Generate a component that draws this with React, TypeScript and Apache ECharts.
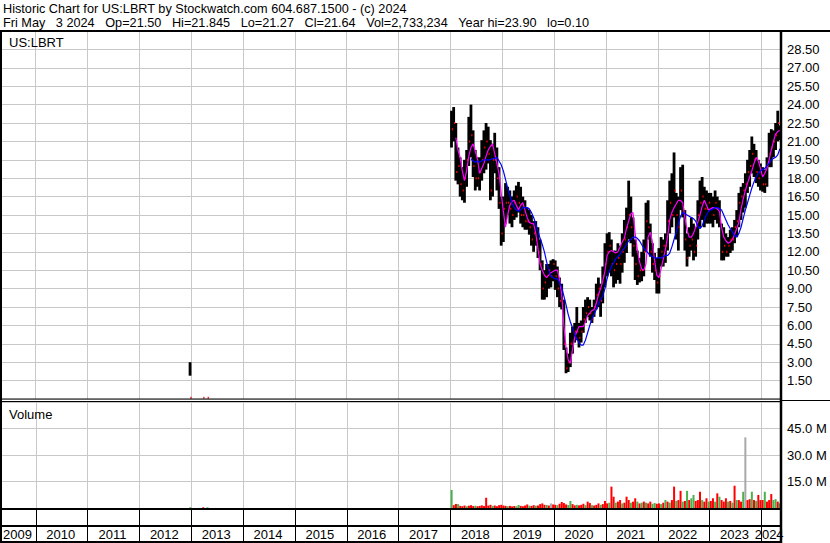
import React, { useEffect, useRef } from "react";
import * as echarts from "echarts";

// ---- DATA (semi-monthly periods, "a" = 1st-15th, "b" = 16th-end) ----
const firstPeriod = "2018-01a";

const high = [
  23.5, 23.8, 22.5, 20.5, 19.7, 18.9, 19.5, 20.3, 23.0, 24.0, 21.9, 20.3, 19.7, 19.7, 21.1, 21.9, 22.5, 22.2, 21.1, 20.8, 21.7, 20.5, 18.9, 16.5,
  16.5, 17.6, 17.3, 17.0, 16.5, 17.0, 17.4, 17.7, 17.3, 16.5, 16.2, 15.6, 15.4, 15.0, 14.5, 14.5, 14.0, 13.0, 11.3, 10.5, 11.0, 11.0, 11.3, 11.4,
  11.3, 10.8, 9.9, 9.4, 8.1, 4.2, 3.7, 5.4, 5.9, 6.2, 7.5, 6.2, 6.4, 7.5, 8.1, 8.3, 8.1, 7.5, 8.1, 9.4, 9.9, 9.4, 10.8, 12.7,
  13.5, 13.6, 13.0, 12.1, 12.1, 12.7, 12.5, 13.5, 14.6, 15.6, 17.8, 16.5, 14.8, 13.0, 12.1, 11.5, 12.0, 13.0, 16.0, 16.2, 14.3, 12.7, 11.9, 11.5,
  12.3, 13.2, 13.0, 13.5, 16.2, 17.8, 18.4, 20.1, 16.8, 16.5, 18.9, 19.1, 15.4, 13.5, 14.0, 14.8, 14.3, 14.0, 16.2, 17.8, 18.1, 17.3, 17.0, 16.8,
  16.8, 16.5, 17.0, 16.5, 16.2, 14.3, 14.0, 13.5, 13.2, 13.8, 14.0, 14.6, 15.4, 16.8, 17.3, 17.6, 18.4, 19.5, 20.3, 21.4, 20.8, 20.3, 19.5, 19.2,
  18.9, 18.7, 19.7, 21.7, 22.0, 21.9, 22.5, 23.5, 22.3,
];
const low = [
  20.5, 21.0, 17.8, 17.5, 16.5, 16.2, 16.0, 17.3, 19.0, 19.7, 18.1, 17.0, 17.3, 17.0, 17.8, 18.4, 18.7, 19.2, 16.2, 16.5, 18.4, 17.0, 15.5, 12.5,
  12.8, 14.3, 15.0, 14.3, 14.0, 14.6, 14.8, 15.2, 14.3, 14.0, 13.8, 13.8, 13.4, 12.5, 12.0, 12.5, 11.5, 10.5, 8.1, 8.1, 8.3, 9.0, 9.1, 9.6,
  8.9, 8.3, 7.5, 7.3, 4.0, 2.1, 2.2, 2.6, 3.7, 4.6, 4.8, 4.2, 4.6, 5.4, 6.2, 6.7, 6.4, 6.2, 6.7, 7.3, 7.5, 6.7, 7.8, 9.1,
  10.0, 10.3, 10.0, 9.1, 9.4, 9.7, 9.4, 10.3, 11.1, 11.9, 13.0, 12.7, 11.6, 9.7, 9.3, 9.5, 9.6, 10.0, 12.0, 13.0, 11.6, 10.3, 9.7, 8.6,
  8.6, 10.8, 10.8, 11.1, 12.1, 13.5, 14.0, 14.8, 13.0, 12.1, 15.4, 14.8, 12.1, 10.8, 11.6, 12.1, 11.3, 11.6, 13.0, 14.0, 14.6, 14.0, 14.3, 14.3,
  14.3, 14.0, 14.6, 14.3, 14.0, 11.3, 11.3, 11.6, 11.6, 11.9, 12.1, 12.7, 13.2, 14.0, 14.6, 15.2, 15.6, 16.8, 17.3, 18.4, 18.1, 17.6, 17.3, 17.0,
  16.9, 16.8, 17.3, 18.9, 18.9, 19.7, 20.3, 21.0, 21.1,
];
const close = [
  22.0, 22.5, 18.5, 19.0, 17.5, 17.0, 18.0, 19.5, 21.0, 21.5, 19.0, 18.0, 18.0, 18.5, 19.5, 20.5, 21.0, 20.0, 17.0, 19.5, 19.5, 18.0, 16.0, 13.5,
  15.5, 16.0, 16.0, 15.5, 15.0, 16.0, 16.5, 16.0, 15.0, 15.0, 14.5, 14.5, 14.0, 13.0, 13.5, 13.0, 12.0, 11.0, 9.0, 9.5, 10.0, 10.5, 10.0, 11.0,
  10.0, 9.0, 8.0, 7.8, 4.5, 2.5, 3.0, 4.5, 4.5, 5.5, 5.5, 5.0, 5.5, 6.5, 7.0, 7.5, 7.0, 6.5, 7.5, 8.5, 9.0, 8.0, 10.0, 11.0,
  12.0, 12.5, 11.0, 10.5, 11.0, 11.5, 11.0, 12.0, 13.0, 14.0, 15.0, 14.0, 12.5, 11.0, 10.0, 10.5, 10.5, 12.0, 14.5, 14.0, 12.0, 11.0, 10.5, 9.5,
  10.0, 12.0, 12.5, 12.5, 14.5, 16.0, 15.0, 17.0, 15.0, 14.0, 17.0, 15.5, 13.0, 11.5, 12.5, 13.0, 12.0, 12.5, 15.0, 16.0, 16.5, 15.5, 15.5, 16.0,
  15.5, 15.0, 16.0, 15.5, 14.5, 12.0, 12.5, 12.0, 12.5, 13.0, 13.0, 14.0, 14.5, 16.0, 16.5, 17.0, 17.5, 18.5, 19.0, 20.0, 19.5, 18.5, 18.0, 18.5,
  17.5, 17.5, 19.0, 20.0, 20.5, 21.0, 21.5, 22.5, 21.6,
];
const maShort = [
  null, null, 21.3, 20.3, 19.7, 18.6, 17.8, 18.6, 19.8, 20.5, 20.8, 20.2, 19.6, 18.4, 18.8, 19.2, 19.8, 20.3, 20.6, 20.8, 20.0, 19.2, 18.4, 16.8,
  15.3, 14.0, 15.0, 15.8, 16.1, 16.2, 15.8, 15.4, 15.8, 16.0, 15.4, 14.8, 14.4, 14.3, 14.3, 13.5, 12.3, 11.0, 10.5, 10.1, 9.9, 10.1, 10.3, 10.4,
  10.5, 10.5, 9.8, 8.5, 6.0, 4.2, 3.2, 2.9, 4.0, 5.0, 5.5, 5.9, 5.9, 5.9, 6.3, 6.8, 7.0, 7.2, 7.3, 7.8, 8.5, 9.0, 9.6, 10.4,
  11.7, 12.0, 12.1, 12.0, 11.9, 12.0, 12.4, 12.8, 13.1, 13.9, 14.5, 15.1, 15.2, 13.5, 12.2, 11.2, 10.6, 10.5, 11.0, 13.2, 13.6, 12.8, 11.3, 10.1,
  9.9, 10.6, 11.4, 12.2, 13.2, 14.6, 15.2, 15.6, 15.9, 16.2, 16.2, 16.0, 14.8, 13.8, 13.2, 13.2, 13.5, 14.0, 14.4, 15.0, 15.7, 16.2, 15.8, 15.4,
  15.5, 15.6, 15.6, 15.5, 15.3, 14.0, 13.2, 12.9, 12.7, 12.8, 13.0, 13.4, 13.9, 14.4, 15.5, 16.3, 17.0, 17.6, 18.1, 18.6, 19.2, 19.7, 19.4, 18.8,
  18.1, 18.4, 18.8, 19.5, 20.3, 21.0, 21.6, 21.8, 21.9,
];
const maLong = [
  null, null, null, null, null, null, null, null, null, 19.6, 19.4, 19.3, 19.4, 19.3, 19.4, 19.5, 19.5, 19.5, 19.5, 19.6, 19.6, 19.7, 19.4, 19.1,
  18.6, 17.9, 17.2, 16.6, 16.0, 15.6, 15.4, 15.3, 15.4, 15.6, 15.6, 15.6, 15.5, 15.2, 14.8, 14.3, 13.7, 13.1, 12.6, 12.0, 11.2, 10.5, 10.0, 9.9,
  9.8, 9.8, 9.5, 9.1, 8.4, 7.7, 6.9, 6.3, 5.8, 5.3, 4.9, 4.6, 4.4, 4.4, 4.8, 5.4, 6.0, 6.5, 6.9, 7.3, 7.7, 8.1, 8.4, 9.0,
  9.8, 10.4, 10.8, 11.1, 11.4, 11.6, 11.8, 12.1, 12.3, 12.6, 12.9, 13.0, 13.2, 13.2, 13.1, 12.9, 12.6, 12.3, 12.1, 11.9, 11.7, 11.6, 11.5, 11.5,
  11.5, 11.5, 11.6, 11.7, 11.7, 11.9, 12.4, 13.0, 13.6, 14.3, 14.9, 15.2, 15.1, 15.0, 14.9, 14.8, 14.7, 14.5, 14.1, 13.9, 14.1, 14.6, 15.0, 15.3,
  15.4, 15.5, 15.6, 15.6, 15.5, 15.4, 15.0, 14.6, 14.2, 13.9, 13.6, 13.3, 13.2, 13.5, 14.0, 14.7, 15.4, 16.0, 16.6, 17.2, 17.7, 18.1, 18.4, 18.6,
  18.7, 18.8, 19.0, 19.2, 19.5, 19.6, 19.7, 19.9, 20.4,
];
// volume in millions of shares
const volume = [
  10.2, 1.6, 2.3, 2.2, 1.2, 1.0, 1.4, 1.0, 1.3, 1.6, 1.1, 1.3, 1.0, 1.2, 1.5, 1.1, 5.8, 1.4, 1.8, 1.2, 1.4, 1.0, 1.6, 1.8,
  1.4, 1.2, 1.0, 1.2, 0.9, 1.1, 1.0, 1.7, 1.2, 1.0, 1.4, 2.0, 1.3, 1.2, 1.6, 1.3, 1.4, 2.2, 2.6, 1.8, 1.7, 1.4, 2.6, 2.0,
  1.8, 1.6, 2.4, 3.4, 2.8, 2.0, 1.7, 4.0, 2.2, 1.5, 1.8, 1.5, 1.8, 2.4, 1.6, 3.6, 2.8, 1.6, 1.4, 1.8, 2.6, 1.8, 2.2, 4.0,
  2.6, 3.0, 12.1, 6.4, 3.0, 3.6, 4.5, 2.6, 3.0, 6.4, 4.5, 3.0, 3.6, 5.5, 3.6, 2.6, 3.0, 3.6, 3.0, 2.6, 3.6, 2.4, 2.8, 2.4,
  2.6, 2.2, 3.0, 4.5, 3.6, 3.0, 4.5, 12.1, 4.0, 4.5, 9.7, 3.6, 4.0, 9.7, 4.5, 5.5, 7.4, 4.0, 4.5, 9.2, 4.5, 3.6, 5.5, 3.6,
  4.0, 5.5, 3.6, 8.3, 6.4, 4.5, 3.6, 5.5, 3.6, 4.0, 3.0, 12.6, 4.5, 4.5, 3.6, 9.2, 40.0, 4.5, 5.0, 9.2, 4.5, 4.0, 7.4, 4.5,
  4.5, 9.2, 3.6, 4.5, 7.9, 4.5, 5.0, 3.6, 2.6,
];
// g = up, r = down, n = unchanged
const volumeDir = (
  "grrgrrrgrrrgrrrrrrrgrrrr" +
  "rrgrrrggrrrrgrrgrrrrgrnr" +
  "rgrrrrggrrgrrrgrrgrrrgrr" +
  "rgrrgrrgrrrgrrgrgrgrrggr" +
  "rgrgrgrrgrrgrgrggrrrgrrg" +
  "rrgrgrrrgrgrgrrgnrrgrgrr" +
  "rgrrrggrg"
).split("");

// stray early prints
const earlyPeriods = ["2012-12b", "2013-03b", "2013-04b"];
const earlyHigh = [3.0, 0.1, 0.1];
const earlyLow = [1.9, 0.1, 0.1];
const earlyClose = [0.1, 0.1, 0.1];
const earlyVolume = [0.4, 0.4, 0.4];
const earlyDir = ["g", "r", "g"];

const priceTicks = { min: 0, max: 30, step: 1.5 };
const volumeTicks = { min: 0, max: 60, step: 15 };

const NB = "\u00a0";
const titleLine1 = "Historic Chart for US:LBRT by Stockwatch.com 604.687.1500 - (c) 2024";
const titleLine2Fields = [
  `Fri May${NB}${NB}${NB}3 2024`,
  "Op=21.50",
  "Hi=21.845",
  "Lo=21.27",
  "Cl=21.64",
  "Vol=2,733,234",
  "Year hi=23.90",
  "lo=0.10",
];
const titleLine2 = titleLine2Fields.join(NB + NB + NB);

// ---- categories ----
function buildPeriods(): string[] {
  const out: string[] = [];
  for (let y = 2009; y <= 2024; y++) {
    for (let m = 1; m <= 12; m++) {
      for (const h of ["a", "b"]) {
        if (y === 2009 && m < 5) continue;
        if (y === 2024 && (m > 5 || (m === 5 && h === "b"))) continue;
        out.push(`${y}-${String(m).padStart(2, "0")}${h}`);
      }
    }
  }
  return out;
}
const periods = buildPeriods();
const yearLabel: Record<string, string> = { "2009-08b": "2009", "2024-02b": "2024" };
for (let y = 2010; y <= 2023; y++) yearLabel[`${y}-06b`] = String(y);
const isYearStart = (_i: number, v: string) => /-01a$/.test(v);

const FONT = '"Liberation Sans", Arial, Helvetica, sans-serif';
const COLORS = { up: "#4cb04c", down: "#ff0000", flat: "#a8a8a8" };
const dirColor = (d: string) => (d === "g" ? COLORS.up : d === "r" ? COLORS.down : COLORS.flat);

export default function App() {
  const ref = useRef<HTMLDivElement>(null);
  useEffect(() => {
    if (!ref.current) return;
    const chart = echarts.init(ref.current, undefined, { renderer: "svg" });
    const start = periods.indexOf(firstPeriod);
    const n = periods.length;

    const ohlc: any[] = [];
    earlyPeriods.forEach((p, i) => {
      ohlc.push([periods.indexOf(p), earlyHigh[i], earlyLow[i], earlyClose[i]]);
    });
    high.forEach((h, k) => ohlc.push([start + k, h, low[k], close[k]]));

    const pad = (arr: (number | null)[]) => {
      const out: (number | null)[] = new Array(n).fill(null);
      arr.forEach((v, k) => (out[start + k] = v));
      return out;
    };

    const vol: any[] = new Array(n).fill(null);
    earlyPeriods.forEach((p, i) => {
      vol[periods.indexOf(p)] = { value: earlyVolume[i], itemStyle: { color: dirColor(earlyDir[i]) } };
    });
    volume.forEach((v, k) => {
      vol[start + k] = { value: v, itemStyle: { color: dirColor(volumeDir[k]) } };
    });

    const gridLine = { show: true, lineStyle: { color: "#c8c8c8", width: 1 } };
    const lineEl = (x1: number, y1: number, x2: number, y2: number, w: number) => ({
      type: "line",
      shape: { x1, y1, x2, y2 },
      style: { stroke: "#000", lineWidth: w },
      z: 100,
      silent: true,
    });
    const textEl = (text: string, x: number, y: number, size = 13) => ({
      type: "text",
      x,
      y,
      z: 100,
      style: { text, font: `${size}px ${FONT}`, fill: "#000", verticalAlign: "middle" },
    });

    const option: any = {
      animation: false,
      backgroundColor: "#ffffff",
      textStyle: { fontFamily: FONT },
      grid: [
        { left: 1, top: 31, width: 780, height: 368 },
        { left: 1, top: 402, width: 780, height: 106 },
      ],
      xAxis: [
        {
          type: "category",
          gridIndex: 0,
          data: periods,
          axisLine: { show: false },
          axisTick: { show: false },
          axisLabel: { show: false },
          splitLine: { ...gridLine, interval: isYearStart },
        },
        {
          type: "category",
          gridIndex: 1,
          data: periods,
          axisLine: { show: false },
          axisTick: { show: true, interval: isYearStart, length: 34, lineStyle: { color: "#000", width: 1 } },
          axisLabel: {
            show: true,
            interval: (_i: number, v: string) => !!yearLabel[v],
            formatter: (v: string) => yearLabel[v] || "",
            margin: 20,
            color: "#000",
            fontSize: 13,
            fontFamily: FONT,
          },
          splitLine: { ...gridLine, interval: isYearStart },
        },
      ],
      yAxis: [
        {
          type: "value",
          gridIndex: 0,
          position: "right",
          min: priceTicks.min,
          max: priceTicks.max,
          interval: priceTicks.step,
          axisLine: { show: false },
          axisTick: { show: false },
          axisLabel: {
            margin: 6,
            color: "#000",
            fontSize: 13,
            fontFamily: FONT,
            formatter: (v: number) => (v <= priceTicks.min || v >= priceTicks.max ? "" : v.toFixed(2)),
          },
          splitLine: gridLine,
        },
        {
          type: "value",
          gridIndex: 1,
          position: "right",
          min: volumeTicks.min,
          max: volumeTicks.max,
          interval: volumeTicks.step,
          axisLine: { show: false },
          axisTick: { show: false },
          axisLabel: {
            margin: 6,
            color: "#000",
            fontSize: 13,
            fontFamily: FONT,
            formatter: (v: number) => (v <= volumeTicks.min || v >= volumeTicks.max ? "" : v.toFixed(1) + " M"),
          },
          splitLine: gridLine,
        },
      ],
      series: [
        {
          type: "custom",
          xAxisIndex: 0,
          yAxisIndex: 0,
          data: ohlc,
          encode: { x: 0, y: [1, 2, 3] },
          renderItem: (_p: any, api: any) => {
            const i = api.value(0);
            const top = api.coord([i, api.value(1)]);
            const bot = api.coord([i, api.value(2)]);
            return {
              type: "rect",
              shape: { x: top[0] - 1.4, y: top[1], width: 2.8, height: Math.max(0, bot[1] - top[1]) },
              style: { fill: "#000" },
            };
          },
        },
        {
          type: "custom",
          xAxisIndex: 0,
          yAxisIndex: 0,
          data: ohlc,
          encode: { x: 0, y: [1, 2, 3] },
          renderItem: (_p: any, api: any) => {
            const i = api.value(0);
            const cl = api.coord([i, api.value(3)]);
            return {
              type: "rect",
              shape: { x: cl[0] + 0.3, y: cl[1] - 1, width: 1.2, height: 2 },
              style: { fill: "#ff0000" },
            };
          },
        },
        {
          type: "line",
          xAxisIndex: 0,
          yAxisIndex: 0,
          data: pad(maShort),
          showSymbol: false,
          lineStyle: { color: "#ff00ff", width: 1.2 },
          itemStyle: { color: "#ff00ff" },
        },
        {
          type: "line",
          xAxisIndex: 0,
          yAxisIndex: 0,
          data: pad(maLong),
          showSymbol: false,
          lineStyle: { color: "#0000ff", width: 1.2 },
          itemStyle: { color: "#0000ff" },
        },
        {
          type: "bar",
          xAxisIndex: 1,
          yAxisIndex: 1,
          data: vol,
          barWidth: 2,
        },
      ],
      graphic: [
        textEl(titleLine1, 3, 9, 12.7),
        textEl(titleLine2, 3, 23, 12.7),
        textEl("US:LBRT", 9, 42),
        textEl("Volume", 9, 414),
        lineEl(0, 31, 830, 31, 2),
        lineEl(1, 31, 1, 543, 2),
        lineEl(781, 31, 781, 543, 2.5),
        lineEl(0, 399, 781, 399, 1),
        lineEl(0, 401.5, 781, 401.5, 1),
        lineEl(781, 400.5, 830, 400.5, 1),
        lineEl(0, 509, 781, 509, 2),
        lineEl(0, 526, 781, 526, 2),
        lineEl(0, 542, 781, 542, 2),
      ],
    };
    chart.setOption(option);
    return () => chart.dispose();
  }, []);
  return (
    <div
      ref={ref}
      style={{ position: "fixed", left: 0, top: 0, width: 830, height: 543, background: "#fff" }}
    />
  );
}
